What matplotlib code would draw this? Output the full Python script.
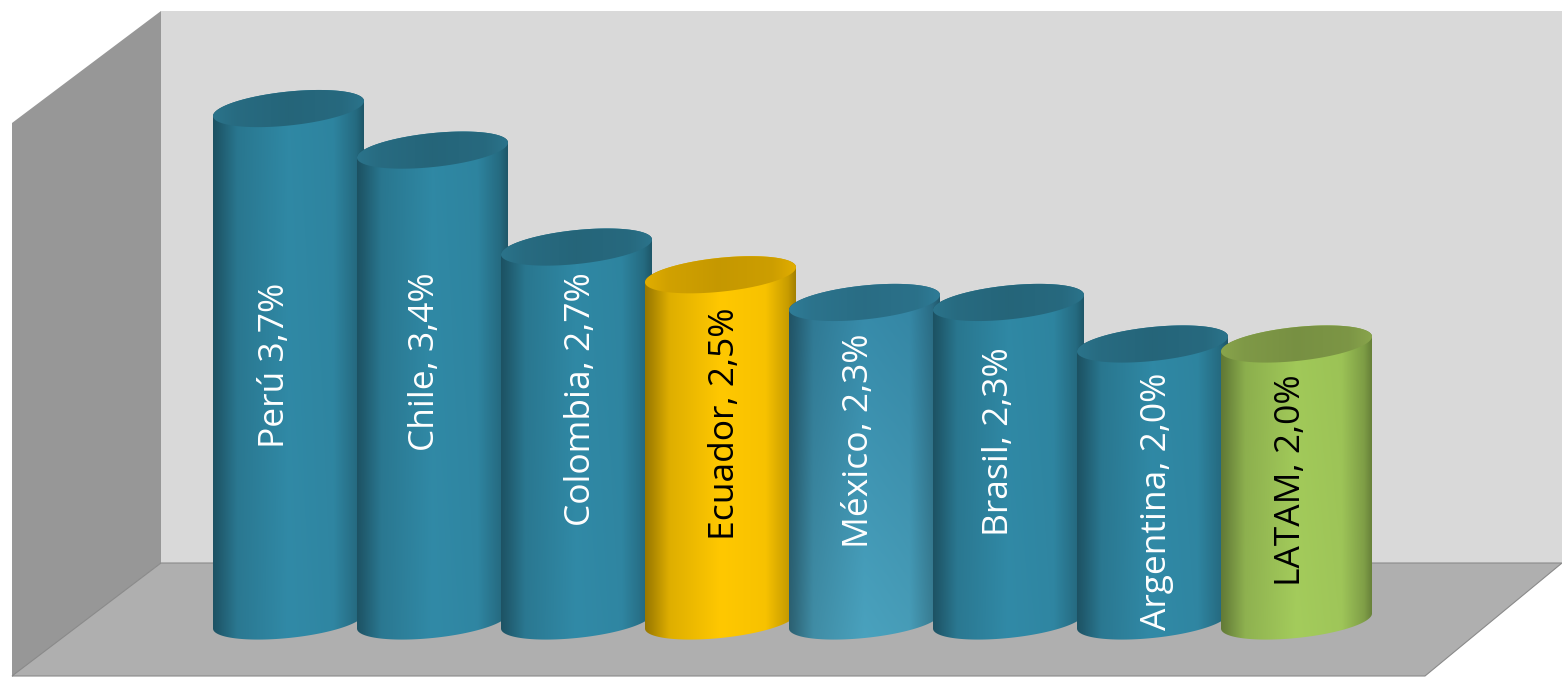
import numpy as np
import matplotlib
matplotlib.use("Agg")
import matplotlib.pyplot as plt
from matplotlib.colors import to_rgb
from matplotlib.patches import Polygon
from matplotlib.transforms import Affine2D

countries = ["Perú 3,7%", "Chile, 3,4%", "Colombia, 2,7%", "Ecuador, 2,5%",
             "México, 2,3%", "Brasil, 2,3%", "Argentina, 2,0%", "LATAM, 2,0%"]
values = [3.7, 3.4, 2.7, 2.5, 2.3, 2.3, 2.0, 2.0]

# styling
W, H = 1562, 677
PX_X, X0 = 144.0, 288.5       # pixels per category, pixel of first category
PX_Y, Y0 = 138.5, 621.0       # pixels per value unit, pixel of baseline
body_top = ["#2f88a4", "#2f88a4", "#2f88a4", "#ffc800", "#3589a8", "#2f88a4", "#2f88a4", "#a0c858"]
body_bot = ["#318aa7", "#318aa7", "#318aa7", "#ffc800", "#4aa2be", "#318aa7", "#318aa7", "#a4cc5c"]
caps = ["#26677c", "#26677c", "#26677c", "#c99b00", "#2a6f87", "#26677c", "#26677c", "#7a9344"]
text_colors = ["white", "white", "white", "black", "white", "white", "white", "black"]
label_dx = [-14, -7, 5, 5, -6, -9, 5, -6]
label_y = [365, 362, 399, 424, 441, 442, 501, 480]

fig = plt.figure(figsize=(W / 100, H / 100), dpi=100, facecolor="white")
ax = fig.add_axes([0, 0, 1, 1])
xlim = ((0 - X0) / PX_X, (W - X0) / PX_X)
ylim = ((Y0 - H) / PX_Y, Y0 / PX_Y)
ax.axis("off")

# walls, in pixel space of the picture
to_px = Affine2D().scale(1, -1).translate(0, H)
def wall(points, color, edge="none", z=0):
    ax.add_patch(Polygon(points, closed=True, facecolor=color, edgecolor=edge,
                         linewidth=0.8, transform=to_px, zorder=z))
wall([(161, 11), (1570, 11), (1570, 563), (161, 563)], "#d9d9d9")
wall([(12, 123), (161, 11), (161, 563), (12, 677)], "#979797")
wall([(161, 563), (1562, 563), (1425, 676), (12, 676)], "#afafaf", edge="#8a8a8a")

half_w = 75.5 / PX_X
half_h = 17.0 / PX_Y
skew = 7.5 / PX_Y
t = np.linspace(0, 2 * np.pi, 181)

stops = np.array([0, 0.04, 0.16, 0.5, 0.8, 0.95, 1.0])
gain = np.array([0.6, 0.66, 0.87, 1.0, 0.97, 0.78, 0.64])
u = np.linspace(0, 1, 200)
shade = np.interp(u, stops, gain)

def ellipse(cx, cy):
    return np.column_stack([cx + half_w * np.cos(t),
                            cy + half_h * np.sin(t) + skew * np.cos(t)])

for i, v in enumerate(values):
    z = 2 + i
    # body outline: lower half of the base ellipse, then upper half at the top
    lower = t[t >= np.pi]
    base = np.column_stack([i + half_w * np.cos(lower),
                            half_h * np.sin(lower) + skew * np.cos(lower)])
    upper = t[t <= np.pi]
    top = np.column_stack([i + half_w * np.cos(upper),
                           v + half_h * np.sin(upper) + skew * np.cos(upper)])
    body = Polygon(np.vstack([base, top]), closed=True, transform=ax.transData,
                   facecolor="none", edgecolor="none")
    ax.add_patch(body)
    ct, cb = np.array(to_rgb(body_top[i])), np.array(to_rgb(body_bot[i]))
    rows = np.linspace(0, 1, 60)[:, None, None]
    img = ((1 - rows) * ct[None, None, :] + rows * cb[None, None, :]) * shade[None, :, None]
    im = ax.imshow(np.clip(img, 0, 1), extent=(i - half_w, i + half_w, -half_h - skew, v + half_h + skew),
                   aspect="auto", origin="upper", zorder=z, interpolation="bilinear")
    im.set_clip_path(body)

    # top cap with a soft horizontal gradient
    cap = Polygon(ellipse(i, v), closed=True, transform=ax.transData,
                  facecolor="none", edgecolor="none")
    ax.add_patch(cap)
    cap_shade = np.interp(u, [0, 0.15, 0.5, 0.85, 1], [1.12, 1.04, 0.98, 1.02, 1.12])
    cap_img = np.array(to_rgb(caps[i]))[None, None, :] * cap_shade[None, :, None]
    ci = ax.imshow(np.clip(cap_img, 0, 1), extent=(i - half_w, i + half_w, v - half_h - skew, v + half_h + skew),
                   aspect="auto", zorder=z + 0.1, interpolation="bilinear")
    ci.set_clip_path(cap)

    ax.text(i + label_dx[i] / PX_X, (Y0 - label_y[i]) / PX_Y, countries[i], rotation=90,
            ha="center", va="center", color=text_colors[i], fontsize=25.5,
            family="Open Sans", zorder=30)

ax.set_xlim(*xlim)
ax.set_ylim(*ylim)
fig.savefig("out.png", dpi=100)
